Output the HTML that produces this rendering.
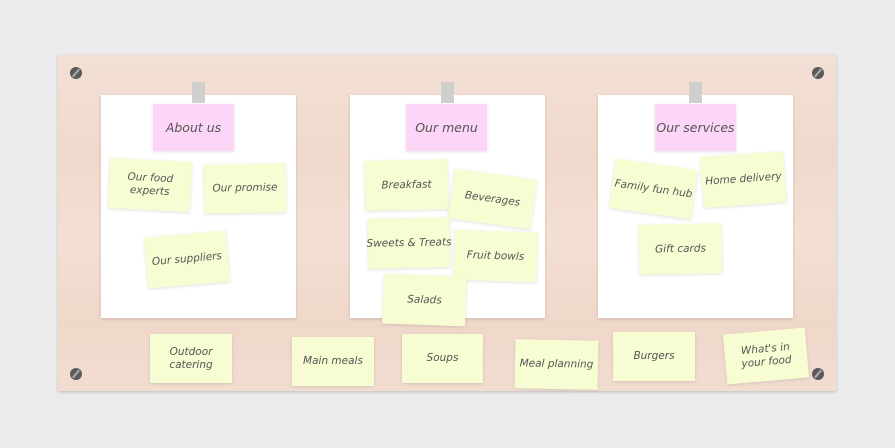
<!DOCTYPE html>
<html><head><style>
body{margin:0;width:895px;height:448px;background:#ebebeb;position:relative;overflow:hidden;font-family:"DejaVu Sans","Liberation Sans",sans-serif;}
.board{position:absolute;left:58px;top:55px;width:778px;height:336px;background:linear-gradient(180deg,#f3e0d5 0%,#f0d9cc 30%,#f3dfd4 55%,#efd7c9 80%,#f2ddd1 100%);box-shadow:0 1px 3px rgba(0,0,0,.2);}
.paper{position:absolute;top:95px;width:195px;height:223px;background:#fff;box-shadow:0 1px 3px rgba(0,0,0,.15);}
.tape{position:absolute;top:82px;width:13px;height:21px;background:#cfcfcf;}
.n{position:absolute;display:flex;align-items:center;justify-content:center;text-align:center;background:#f8fcd3;color:#555;font-size:10.5px;line-height:13px;box-shadow:0 1px 3px rgba(0,0,0,.12);font-style:italic;white-space:nowrap;}
.h{background:#fdd5f7;font-size:12.5px;}
.s{position:absolute;width:12px;height:12px;border-radius:50%;background:#5a5a5a;}
.s:after{content:"";position:absolute;left:5px;top:1px;width:2px;height:10px;background:#aaa;transform:rotate(40deg);}
</style></head><body>
<div class="board"></div>
<div class="s" style="left:70px;top:67px"></div>
<div class="s" style="left:812px;top:67px"></div>
<div class="s" style="left:70px;top:368px"></div>
<div class="s" style="left:812px;top:368px"></div>
<div class="paper" style="left:101px"></div>
<div class="paper" style="left:350px"></div>
<div class="paper" style="left:598px"></div>
<div class="tape" style="left:192px"></div>
<div class="tape" style="left:441px"></div>
<div class="tape" style="left:689px"></div>
<div class="n h" style="left:153px;top:104px;width:81px;height:47px">About us</div>
<div class="n h" style="left:406px;top:104px;width:81px;height:47px">Our menu</div>
<div class="n h" style="left:655px;top:104px;width:81px;height:47px">Our services</div>
<div class="n" style="left:109px;top:160px;width:82px;height:50px;transform:rotate(3deg)">Our food<br>experts</div>
<div class="n" style="left:204px;top:164px;width:82px;height:49px;transform:rotate(-1deg)">Our promise</div>
<div class="n" style="left:146px;top:234px;width:82px;height:51px;transform:rotate(-5deg)">Our suppliers</div>
<div class="n" style="left:365px;top:160px;width:83px;height:50px;transform:rotate(-1deg)">Breakfast</div>
<div class="n" style="left:451px;top:174px;width:83px;height:50px;transform:rotate(8deg)">Beverages</div>
<div class="n" style="left:368px;top:218px;width:82px;height:50px;transform:rotate(-1deg)">Sweets &amp; Treats</div>
<div class="n" style="left:454px;top:231px;width:83px;height:50px;transform:rotate(2deg)">Fruit bowls</div>
<div class="n" style="left:383px;top:275px;width:83px;height:50px;transform:rotate(2deg)">Salads</div>
<div class="n" style="left:612px;top:164px;width:83px;height:50px;transform:rotate(8deg)">Family fun hub</div>
<div class="n" style="left:702px;top:154px;width:83px;height:51px;transform:rotate(-4deg)">Home delivery</div>
<div class="n" style="left:639px;top:224px;width:83px;height:50px;transform:rotate(-1deg)">Gift cards</div>
<div class="n" style="left:150px;top:334px;width:82px;height:49px">Outdoor<br>catering</div>
<div class="n" style="left:292px;top:337px;width:82px;height:49px">Main meals</div>
<div class="n" style="left:402px;top:334px;width:81px;height:49px">Soups</div>
<div class="n" style="left:515px;top:340px;width:83px;height:49px;transform:rotate(1deg)">Meal planning</div>
<div class="n" style="left:613px;top:332px;width:82px;height:49px">Burgers</div>
<div class="n" style="left:725px;top:331px;width:82px;height:50px;transform:rotate(-5deg)">What's in<br>your food</div>
</body></html>
